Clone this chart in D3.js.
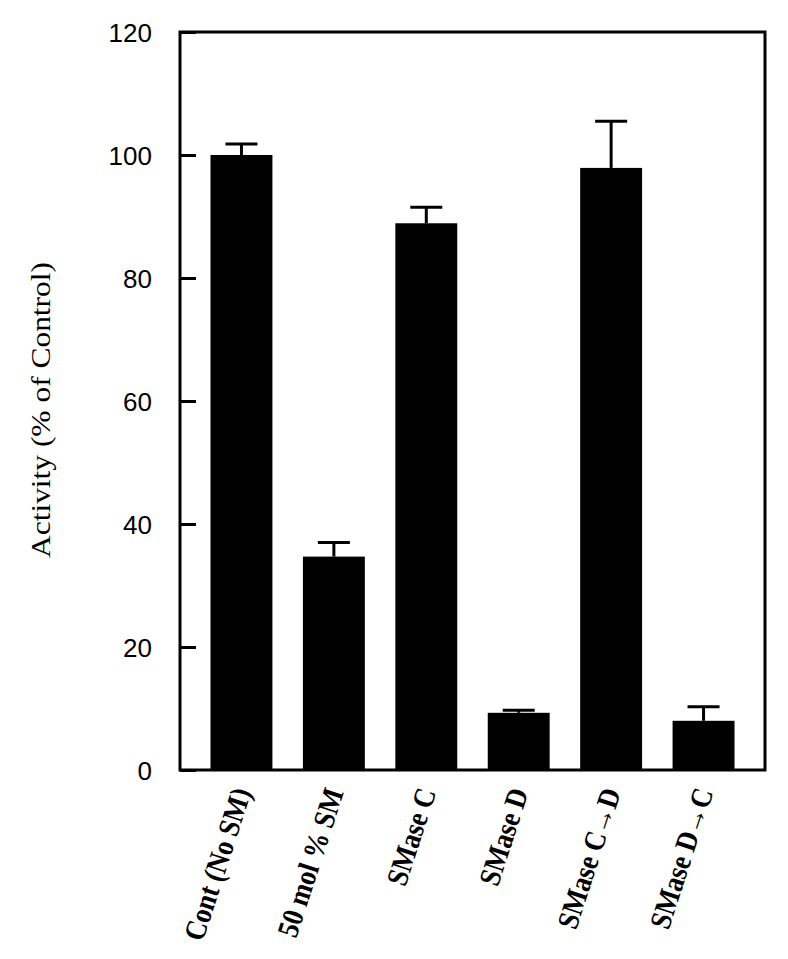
<!DOCTYPE html>
<html>
<head>
<meta charset="utf-8">
<script src="https://cdn.jsdelivr.net/npm/d3@7.9.0/dist/d3.min.js"></script>
<style>
  body { margin: 0; background: #fff; }
</style>
</head>
<body>
<script>
// ** Data **
const categories = ["Cont (No SM)", "50 mol % SM", "SMase C", "SMase D", "SMase C\u2192D", "SMase D\u2192C"];
const activity = [100, 34.7, 88.9, 9.3, 97.9, 8.0];
const errors = [1.8, 2.3, 2.6, 0.4, 7.6, 2.3];
const yTicks = [0, 20, 40, 60, 80, 100, 120];

const data = categories.map((c, i) => ({ name: c, value: activity[i], err: errors[i] }));

// ** SVG Setup **
const width = 788, height = 959;
const margin = { top: 32, right: 23, bottom: 189, left: 180 };

const svg = d3.select("body")
    .append("svg")
    .attr("width", width)
    .attr("height", height);

const x = d3.scaleBand()
    .domain(categories)
    .range([margin.left, width - margin.right])
    .padding(0.33);

const y = d3.scaleLinear()
    .domain([0, 120])
    .range([height - margin.bottom, margin.top]);

// ** Bars **
svg.selectAll("rect.bar")
    .data(data)
    .enter()
    .append("rect")
    .attr("class", "bar")
    .attr("x", d => x(d.name))
    .attr("y", d => y(d.value))
    .attr("width", x.bandwidth())
    .attr("height", d => y(0) - y(d.value))
    .attr("fill", "#000");

// ** Error bars (upper only) **
const capHalf = 16;
const err = svg.selectAll("g.err")
    .data(data)
    .enter()
    .append("g")
    .attr("class", "err")
    .attr("stroke", "#000")
    .attr("stroke-width", 3);

err.append("line")
    .attr("x1", d => x(d.name) + x.bandwidth() / 2)
    .attr("x2", d => x(d.name) + x.bandwidth() / 2)
    .attr("y1", d => y(d.value))
    .attr("y2", d => y(d.value + d.err));

err.append("line")
    .attr("x1", d => x(d.name) + x.bandwidth() / 2 - capHalf)
    .attr("x2", d => x(d.name) + x.bandwidth() / 2 + capHalf)
    .attr("y1", d => y(d.value + d.err))
    .attr("y2", d => y(d.value + d.err));

// ** Frame **
svg.append("rect")
    .attr("x", margin.left)
    .attr("y", margin.top)
    .attr("width", width - margin.right - margin.left)
    .attr("height", y(0) - margin.top)
    .attr("fill", "none")
    .attr("stroke", "#000")
    .attr("stroke-width", 3);

// ** Y axis: inward ticks **
const yAxis = svg.append("g")
    .attr("transform", `translate(${margin.left},0)`)
    .call(d3.axisLeft(y).tickValues(yTicks).tickSizeInner(-16).tickSizeOuter(0).tickPadding(28));

yAxis.select(".domain").remove();
yAxis.selectAll(".tick line").attr("stroke", "#000").attr("stroke-width", 3);
yAxis.selectAll(".tick text")
    .style("font-family", "'Liberation Sans', Arial, sans-serif")
    .style("font-size", "26px")
    .attr("fill", "#000")
    .attr("dy", "0.36em");

// ** Y axis title **
svg.append("text")
    .attr("transform", "translate(50,410) rotate(-90)")
    .attr("text-anchor", "middle")
    .attr("textLength", 296)
    .attr("lengthAdjust", "spacingAndGlyphs")
    .style("font-family", "'Liberation Serif', 'Times New Roman', serif")
    .style("font-size", "28px")
    .attr("fill", "#000")
    .text("Activity (% of Control)");

// ** Category labels, steeply rotated and a bit condensed **
svg.selectAll("text.cat")
    .data(data)
    .enter()
    .append("text")
    .attr("class", "cat")
    .attr("transform", d => `translate(${x(d.name) + x.bandwidth() / 2 + 10},${y(0) + 22}) rotate(-72) scale(0.88,1)`)
    .attr("text-anchor", "end")
    .style("font-family", "'Liberation Serif', 'Times New Roman', serif")
    .style("font-weight", "bold")
    .style("font-size", "30px")
    .attr("fill", "#000")
    .text(d => d.name);
</script>
</body>
</html>
